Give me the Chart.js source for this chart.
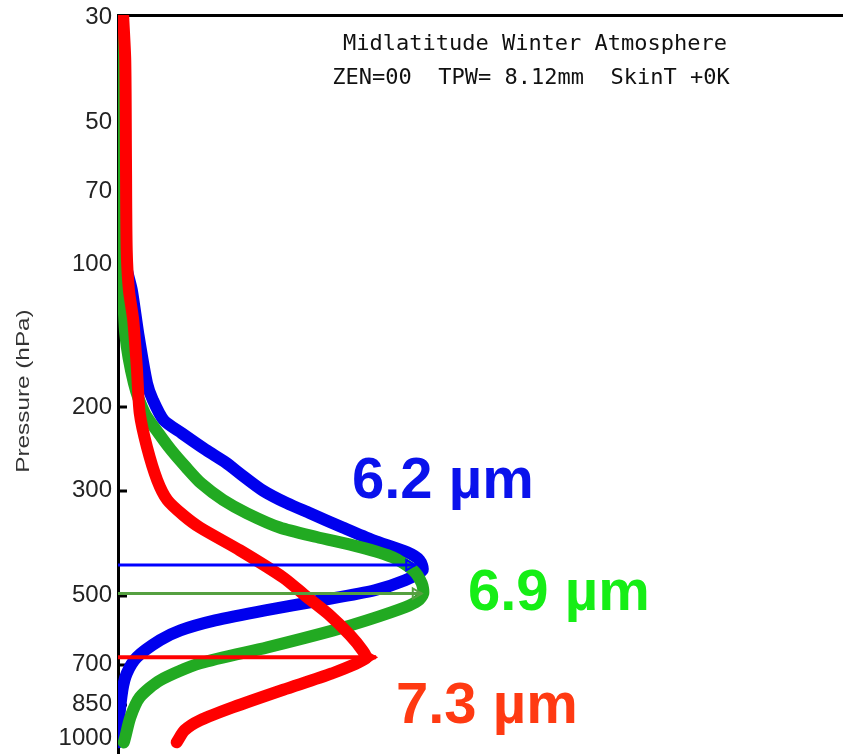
<!DOCTYPE html>
<html>
<head>
<meta charset="utf-8">
<script src="https://cdn.jsdelivr.net/npm/chart.js@4.4.1/dist/chart.umd.min.js"></script>
<style>
  html, body { margin: 0; padding: 0; background: #fff; }
  #wrap { width: 843px; height: 754px; }
</style>
</head>
<body>
<div id="wrap"><canvas id="chart" width="843" height="754"></canvas></div>
<script>
// ==================== DONNEES ====================

const yTicks = [30, 50, 70, 100, 200, 300, 500, 700, 850, 1000];
const titleLines = ['Midlatitude Winter Atmosphere', 'ZEN=00  TPW= 8.12mm  SkinT +0K'];
const channelLabels = ['6.2 \u00b5m', '6.9 \u00b5m', '7.3 \u00b5m'];

// 6.2 um
const bluePressure = [29.7, 37, 45, 60, 73, 100, 113, 140, 178, 193, 213, 227, 246, 262, 276, 300, 319, 335, 359, 382, 405, 421, 442, 464, 487, 512, 537, 564, 592, 621, 675, 730, 792, 930, 1020];
const blueWeight   = [0.003, 0.004, 0.006, 0.007, 0.008, 0.011, 0.019, 0.028, 0.040, 0.048, 0.063, 0.088, 0.121, 0.149, 0.168, 0.200, 0.233, 0.265, 0.310, 0.352, 0.399, 0.416, 0.420, 0.396, 0.354, 0.279, 0.203, 0.134, 0.086, 0.058, 0.026, 0.012, 0.006, 0.001, 0.000];

// 6.9 um
const greenPressure = [29.7, 45, 73, 100, 140, 178, 206, 227, 246, 268, 290, 314, 335, 359, 376, 395, 415, 442, 471, 495, 512, 529, 564, 592, 643, 695, 755, 820, 904, 996, 1021];
const greenWeight   = [0.003, 0.004, 0.004, 0.006, 0.010, 0.022, 0.037, 0.056, 0.073, 0.094, 0.115, 0.145, 0.178, 0.223, 0.274, 0.334, 0.379, 0.407, 0.419, 0.421, 0.414, 0.396, 0.343, 0.297, 0.206, 0.113, 0.058, 0.030, 0.017, 0.010, 0.008];

// 7.3 um
const redPressure = [29.7, 37, 60, 93, 113, 131, 165, 206, 243, 285, 314, 338, 359, 401, 458, 504, 550, 606, 652, 678, 730, 790, 860, 917, 962, 1020];
const redWeight   = [0.007, 0.010, 0.011, 0.012, 0.015, 0.021, 0.026, 0.030, 0.040, 0.054, 0.068, 0.090, 0.113, 0.168, 0.228, 0.261, 0.292, 0.320, 0.337, 0.342, 0.295, 0.228, 0.159, 0.113, 0.092, 0.081];

// fleches des pics (pression, extremite)
const arrowPressure = [431, 495, 675];
const arrowTip      = [0.410, 0.419, 0.356];

// ==================== DESSIN ====================

const toPoints = (w, p) => w.map((v, i) => ({ x: v, y: p[i] }));

function courbe(label, w, p, color, order) {
  return {
    label: label,
    data: toPoints(w, p),
    showLine: true,
    borderColor: color,
    borderWidth: 12,
    borderCapStyle: 'round',
    borderJoinStyle: 'round',
    tension: 0.25,
    pointRadius: 0,
    order: order
  };
}

function fleche(i, color, fill, r) {
  const pt = arrowTip[i] - r / 725;
  return {
    label: 'arrow' + i,
    data: [{ x: 0, y: arrowPressure[i] }, { x: pt, y: arrowPressure[i] }, { x: arrowTip[i], y: arrowPressure[i] }],
    showLine: true,
    borderColor: color,
    borderWidth: i === 2 ? 4 : 3,
    pointRadius: [0, r, 0],
    pointStyle: 'triangle',
    rotation: 90,
    pointBackgroundColor: fill,
    pointBorderColor: color,
    pointBorderWidth: 2,
    order: 0
  };
}

const decor = {
  id: 'decor',
  beforeDatasetsDraw(chart) {
    const ctx = chart.ctx, y = chart.scales.y, area = chart.chartArea;
    ctx.save();
    ctx.strokeStyle = '#000';
    ctx.lineWidth = 3;
    yTicks.forEach(v => {
      const py = Math.round(y.getPixelForValue(v));
      ctx.beginPath();
      ctx.moveTo(area.left, py);
      ctx.lineTo(area.left + 9, py);
      ctx.stroke();
    });
    ctx.restore();
  },
  afterDraw(chart) {
    const ctx = chart.ctx;
    ctx.save();
    ctx.fillStyle = '#111';
    ctx.font = '22px "DejaVu Sans Mono", monospace';
    ctx.textAlign = 'center';
    ctx.textBaseline = 'middle';
    ctx.fillText(titleLines[0], 535, 44);
    ctx.fillText(titleLines[1], 531, 78);

    // libelles des canaux
    ctx.textAlign = 'left';
    ctx.textBaseline = 'alphabetic';
    ctx.font = 'bold 58px "Liberation Sans", Arial, sans-serif';
    ctx.fillStyle = '#0a12ec';
    ctx.fillText(channelLabels[0], 352, 498);
    ctx.fillStyle = '#16ee16';
    ctx.fillText(channelLabels[1], 468, 610);
    ctx.fillStyle = '#ff3a12';
    ctx.fillText(channelLabels[2], 396, 723);

    // titre de l'axe
    ctx.translate(24, 391);
    ctx.rotate(-Math.PI / 2);
    ctx.scale(1.35, 1);
    ctx.textAlign = 'center';
    ctx.textBaseline = 'middle';
    ctx.font = '18px "Liberation Sans", Arial, sans-serif';
    ctx.fillStyle = '#333';
    ctx.fillText('Pressure (hPa)', 0, 0);
    ctx.restore();
  }
};

new Chart(document.getElementById('chart').getContext('2d'), {
  type: 'scatter',
  data: {
    datasets: [
      fleche(0, '#0000ff', 'rgba(0,0,0,0)', 6),
      fleche(1, '#55a040', 'rgba(0,0,0,0)', 6),
      fleche(2, '#ff0000', '#ff0000', 8),
      courbe('7.3 um', redWeight, redPressure, '#ff0000', 1),
      courbe('6.9 um', greenWeight, greenPressure, '#22aa22', 2),
      courbe('6.2 um', blueWeight, bluePressure, '#0000ee', 3)
    ]
  },
  options: {
    responsive: false,
    animation: false,
    devicePixelRatio: 1,
    layout: { padding: { top: 15, right: 0, bottom: 0, left: 0 } },
    plugins: { legend: { display: false }, tooltip: { enabled: false } },
    scales: {
      x: {
        type: 'linear',
        position: 'top',
        min: 0,
        max: 1,
        ticks: { display: false },
        grid: { display: false, drawTicks: false },
        border: { display: true, color: '#000', width: 3 },
        afterFit(scale) { scale.height = 0; }
      },
      y: {
        type: 'logarithmic',
        reverse: true,
        min: 29.7,
        max: 1080,
        afterBuildTicks(scale) { scale.ticks = yTicks.map(v => ({ value: v })); },
        ticks: {
          autoSkip: false,
          padding: 6,
          color: '#222',
          font: { family: '"Liberation Sans", Arial, sans-serif', size: 24 },
          callback: v => String(v)
        },
        grid: { display: false, drawTicks: false },
        border: { display: true, color: '#000', width: 3 },
        afterFit(scale) {
          scale.width = 118;
          scale.paddingTop = 0;
          scale.paddingBottom = 0;
        }
      }
    }
  },
  plugins: [decor]
});
</script>
</body>
</html>
